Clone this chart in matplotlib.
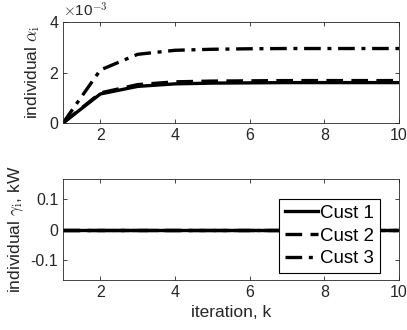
import matplotlib
matplotlib.use("Agg")
from matplotlib import pyplot as plt
import numpy as np

# data
iterations = [1, 2, 3, 4, 5, 6, 7, 8, 9, 10]
alpha_cust1 = [0, 1.15, 1.45, 1.55, 1.58, 1.59, 1.60, 1.60, 1.60, 1.60]
alpha_cust2 = [0, 1.19, 1.52, 1.63, 1.66, 1.67, 1.68, 1.68, 1.68, 1.68]
alpha_cust3 = [0, 2.10, 2.72, 2.88, 2.92, 2.94, 2.95, 2.95, 2.95, 2.95]
gamma_cust1 = [0] * 10
gamma_cust2 = [0] * 10
gamma_cust3 = [0] * 10
labels = ["Cust 1", "Cust 2", "Cust 3"]

plt.rcParams['font.family'] = ['Liberation Sans', 'DejaVu Sans']
plt.rcParams['mathtext.fontset'] = 'cm'
axcol = (0.15, 0.15, 0.15)

fig = plt.figure(figsize=(4.07, 3.3), dpi=100)
ax1 = fig.add_axes([63 / 407, 1 - 123 / 330, 336 / 407, 101 / 330])
ax2 = fig.add_axes([63 / 407, 1 - 280 / 330, 336 / 407, 101 / 330])

styles = ["-", (0, (5, 2.5)), (0, (5, 2, 1.2, 2))]
lw = 2.4

for vals, ls in zip([alpha_cust1, alpha_cust2, alpha_cust3], styles):
    ax1.plot(iterations, np.array(vals) * 1e-3, color="black", linestyle=ls, linewidth=lw)
for vals, ls, lab in zip([gamma_cust1, gamma_cust2, gamma_cust3], styles, labels):
    ax2.plot(iterations, vals, color="black", linestyle=ls, linewidth=lw, label=lab)

ax1.set_xlim(1, 10)
ax1.set_ylim(0, 4e-3)
ax1.set_xticks([2, 4, 6, 8, 10])
ax1.set_yticks([0, 2e-3, 4e-3])
ax1.set_yticklabels(["0", "2", "4"])
ax1.set_ylabel(r"individual $\alpha_{\rm i}$", fontsize=12.5, color=axcol, labelpad=5)
ax1.text(0.0, 1.02, r"$\times$10$^{-3}$", transform=ax1.transAxes, fontsize=11,
         color=axcol, ha="left", va="bottom")

ax2.set_xlim(1, 10)
ax2.set_ylim(-1 / 6, 1 / 6)
ax2.set_xticks([2, 4, 6, 8, 10])
ax2.set_yticks([-0.1, 0, 0.1])
ax2.set_yticklabels(["-0.1", "0", "0.1"])
ax2.set_ylabel(r"individual $\gamma_{\rm i}$, kW", fontsize=12.5, color=axcol, labelpad=3)
ax2.set_xlabel("iteration, k", fontsize=12.5, color=axcol, labelpad=4)

leg = ax2.legend(loc="lower right", bbox_to_anchor=(0.943, 0.07), fontsize=13.5,
                 frameon=True, fancybox=False, edgecolor="black",
                 handlelength=1.8, handletextpad=0.1, borderaxespad=0,
                 labelspacing=0.3, borderpad=0.3)
leg.get_frame().set_linewidth(0.8)
leg.get_frame().set_alpha(1)

for ax in (ax1, ax2):
    ax.tick_params(direction="in", top=True, right=True, labelsize=11.5,
                   colors=axcol, length=3, width=0.6)
    for s in ax.spines.values():
        s.set_color(axcol)
        s.set_linewidth(0.6)

fig.savefig("out.png", dpi=100)
